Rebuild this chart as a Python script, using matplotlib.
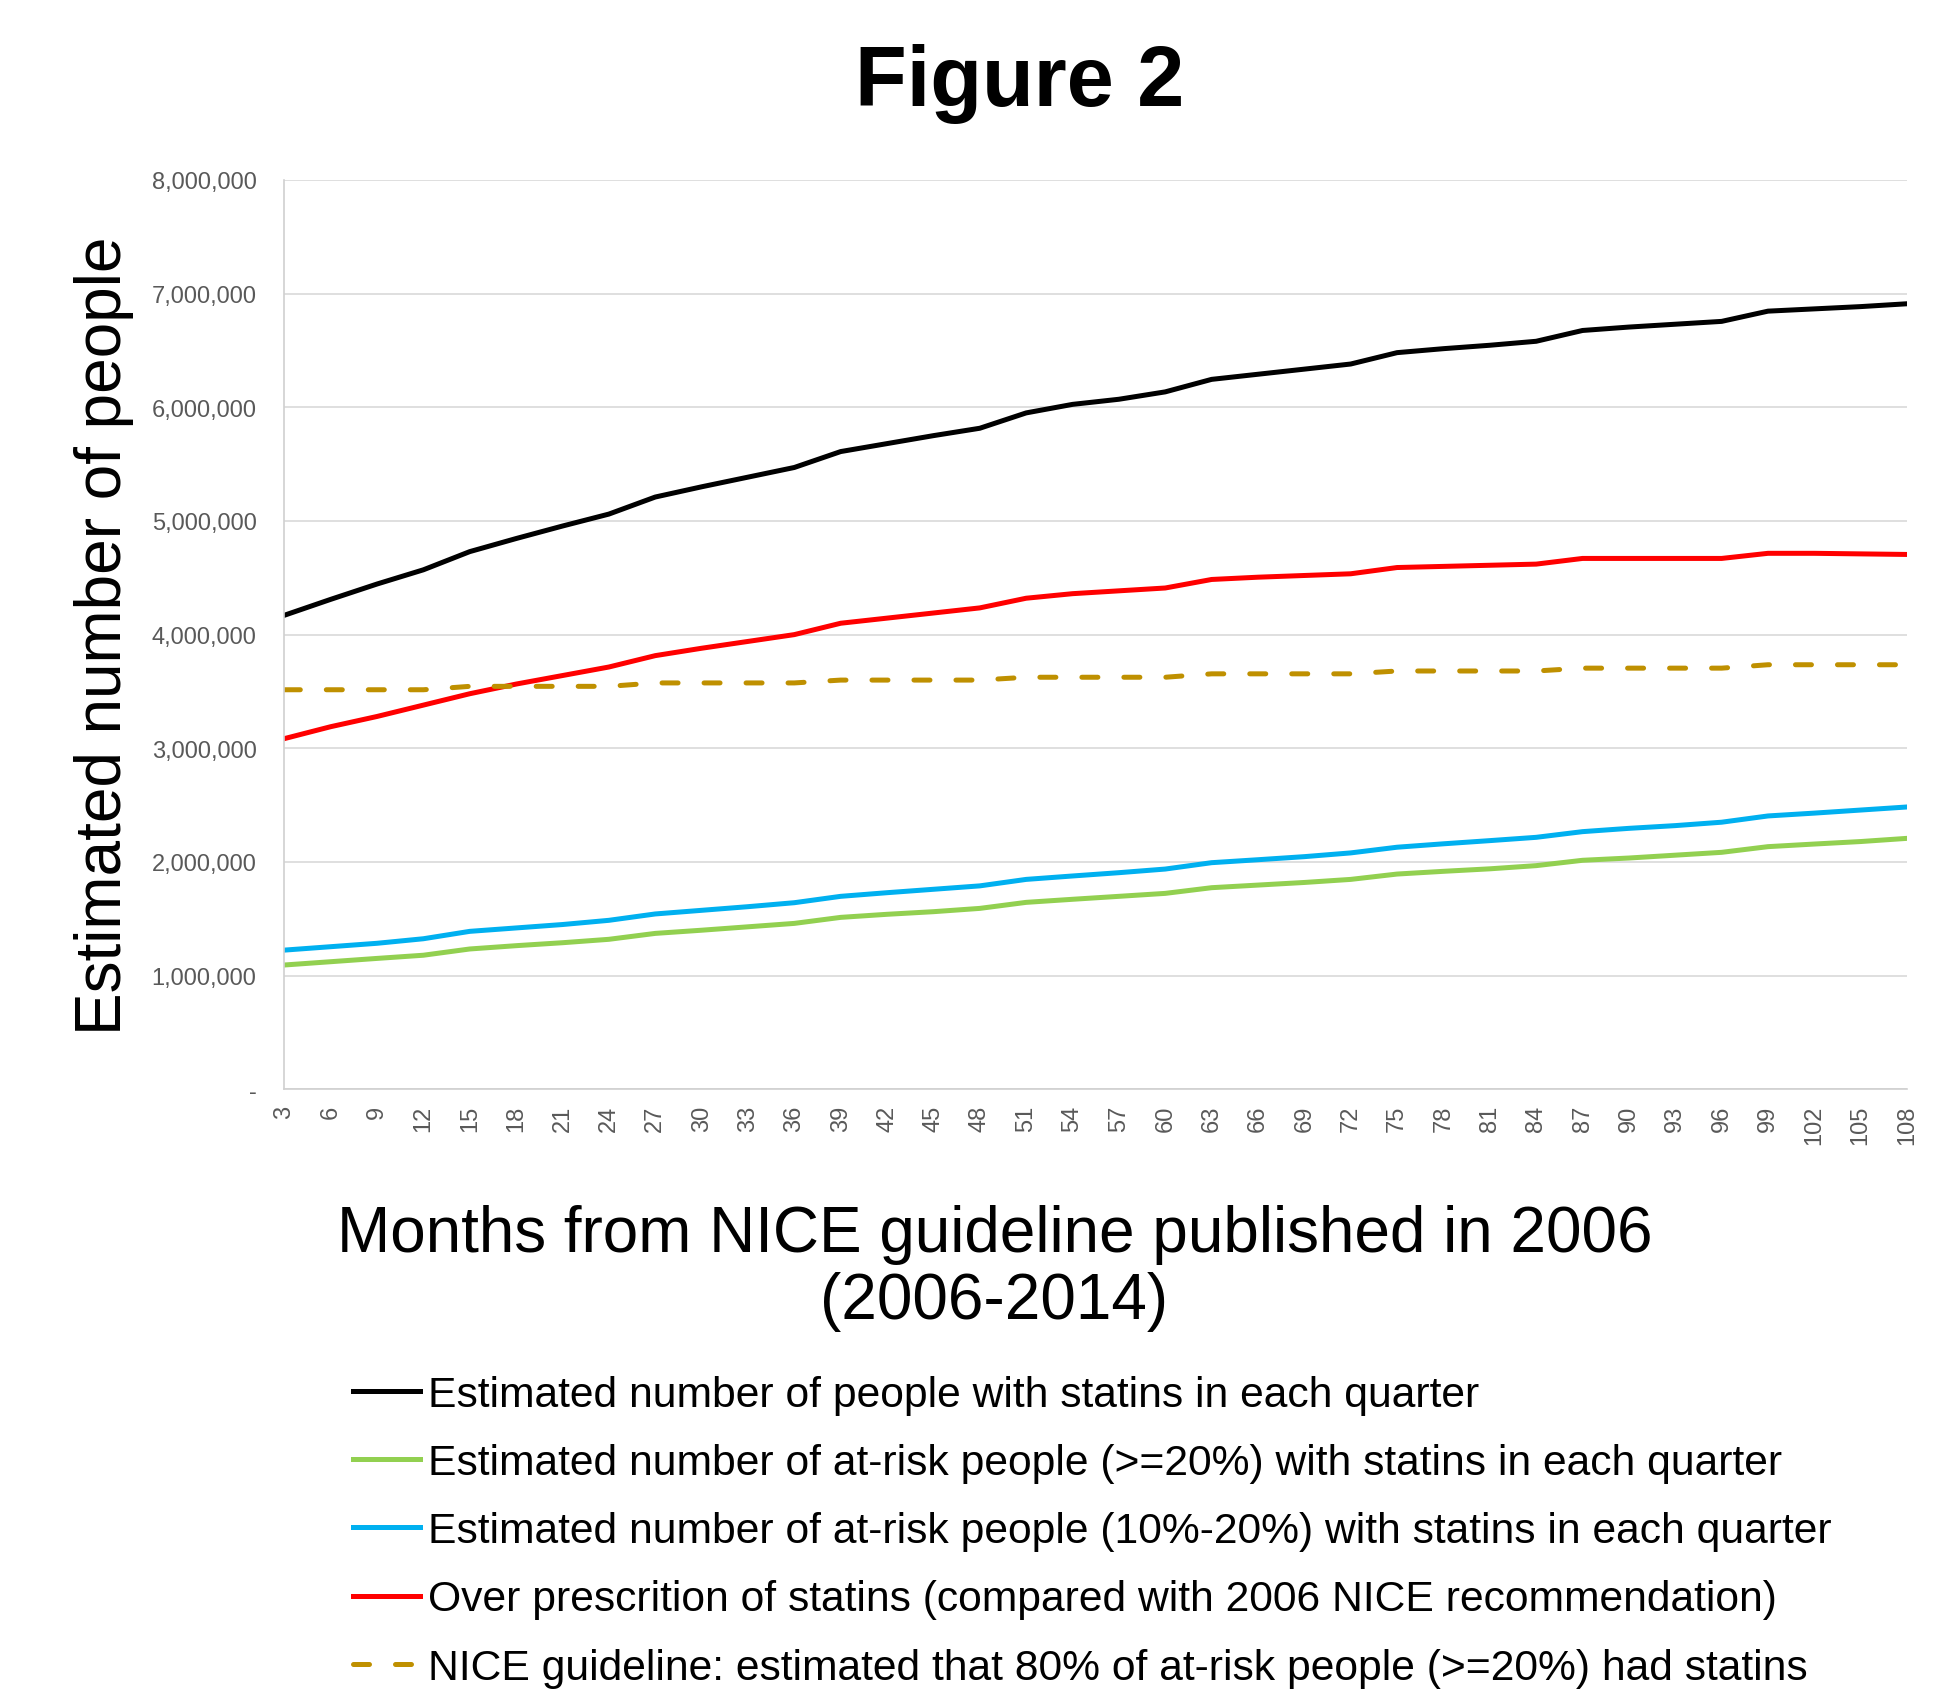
import numpy as np
import matplotlib
matplotlib.use("Agg")
import matplotlib.pyplot as plt
from matplotlib.ticker import FuncFormatter

plt.rcParams['font.family'] = ['Liberation Sans', 'DejaVu Sans']

# quarters since the 2006 NICE guideline
months = [3, 6, 9, 12, 15, 18, 21, 24, 27, 30, 33, 36, 39, 42, 45, 48, 51, 54,
          57, 60, 63, 66, 69, 72, 75, 78, 81, 84, 87, 90, 93, 96, 99, 102, 105, 108]

# values in millions of people
all_statins = [4.17, 4.31, 4.445, 4.57, 4.73, 4.845, 4.955, 5.06, 5.21, 5.30, 5.385, 5.47,
               5.61, 5.68, 5.75, 5.815, 5.95, 6.025, 6.07, 6.135, 6.245, 6.29, 6.335, 6.38,
               6.48, 6.515, 6.545, 6.58, 6.675, 6.705, 6.73, 6.755, 6.845, 6.865, 6.885, 6.91]
risk_20 = [1.094, 1.123, 1.152, 1.18, 1.235, 1.264, 1.29, 1.32, 1.372, 1.40, 1.43, 1.46,
           1.513, 1.54, 1.563, 1.592, 1.645, 1.672, 1.698, 1.724, 1.774, 1.797, 1.82, 1.847,
           1.894, 1.918, 1.94, 1.968, 2.015, 2.035, 2.06, 2.085, 2.135, 2.158, 2.18, 2.208]
risk_10_20 = [1.225, 1.255, 1.285, 1.325, 1.39, 1.42, 1.45, 1.487, 1.543, 1.575, 1.607, 1.642,
              1.698, 1.73, 1.76, 1.79, 1.847, 1.877, 1.906, 1.938, 1.994, 2.02, 2.047, 2.08,
              2.13, 2.16, 2.188, 2.217, 2.267, 2.296, 2.32, 2.35, 2.405, 2.43, 2.457, 2.484]
over_prescr = [3.085, 3.19, 3.28, 3.38, 3.48, 3.565, 3.64, 3.715, 3.815, 3.88, 3.94, 4.0,
               4.10, 4.145, 4.19, 4.235, 4.32, 4.36, 4.385, 4.41, 4.485, 4.505, 4.52, 4.535,
               4.59, 4.60, 4.61, 4.62, 4.67, 4.67, 4.67, 4.67, 4.715, 4.715, 4.71, 4.705]
nice_80 = [3.515, 3.515, 3.515, 3.515, 3.545, 3.545, 3.545, 3.545, 3.575, 3.575, 3.575, 3.575,
           3.60, 3.60, 3.60, 3.60, 3.625, 3.625, 3.625, 3.625, 3.655, 3.655, 3.655, 3.655,
           3.68, 3.68, 3.68, 3.68, 3.705, 3.705, 3.705, 3.705, 3.735, 3.735, 3.735, 3.735]

labels = [
    'Estimated number of people with statins in each quarter',
    'Estimated number of at-risk people (>=20%) with statins in each quarter',
    'Estimated number of at-risk people (10%-20%) with statins in each quarter',
    'Over prescrition of statins (compared with 2006 NICE recommendation)',
    'NICE guideline: estimated that 80% of at-risk people (>=20%) had statins',
]

fig = plt.figure(figsize=(19.54, 16.90), dpi=100)
ax = fig.add_axes([0.1455, 0.3548, 0.976 - 0.1455, 0.893 - 0.3548])

x = np.arange(len(months))
lw = 3.6
ax.plot(x, np.array(all_statins) * 1e6, color='#000000', lw=lw, label=labels[0])
ax.plot(x, np.array(risk_20) * 1e6, color='#92d050', lw=lw, label=labels[1])
ax.plot(x, np.array(risk_10_20) * 1e6, color='#00b0f0', lw=lw, label=labels[2])
ax.plot(x, np.array(over_prescr) * 1e6, color='#ff0000', lw=lw, label=labels[3])
ax.plot(x, np.array(nice_80) * 1e6, color='#bf9000', lw=lw, label=labels[4],
        dashes=(3.2, 5.2), dash_capstyle='round')

ax.set_xlim(0, len(months) - 1)
ax.set_ylim(0, 8e6)
ax.set_yticks(np.arange(0, 8.5e6, 1e6))
ax.yaxis.set_major_formatter(FuncFormatter(lambda v, p: '-' if v == 0 else f'{int(v):,}'))
ax.set_xticks(x, [str(m) for m in months])
for lab in ax.get_xticklabels():
    lab.set_rotation(90)
    lab.set_va('top')
    lab.set_ha('center')

ax.tick_params(axis='y', length=0, pad=20, labelsize=17, labelcolor='#595959')
ax.tick_params(axis='x', length=0, pad=11, labelsize=17, labelcolor='#595959')
ax.grid(axis='y', color='#d9d9d9', lw=1.2)
ax.set_axisbelow(True)
for s in ['top', 'right']:
    ax.spines[s].set_visible(False)
for s in ['left', 'bottom']:
    ax.spines[s].set_color('#d0d0d0')
    ax.spines[s].set_linewidth(1.2)

ax.set_ylabel('Estimated number of people', fontsize=46, va='center', ha='center')
ax.yaxis.set_label_coords(-0.111, 0.5)
ax.set_xlabel('Months from NICE guideline published in 2006\n(2006-2014)',
              fontsize=46, va='center', ha='center', linespacing=1.15)
ax.xaxis.set_label_coords(0.4375, -0.1957)

fig.text(0.5217, 0.95, 'Figure 2', fontsize=61, fontweight='bold', ha='center', va='center')

fig.legend(loc='upper left', bbox_to_anchor=(353 / 1954, 1 - 1376 / 1690),
           frameon=False, fontsize=30.7, handlelength=1.58, handletextpad=0.17,
           labelspacing=0.66, borderpad=0, borderaxespad=0)

fig.savefig('out.png', dpi=100)
